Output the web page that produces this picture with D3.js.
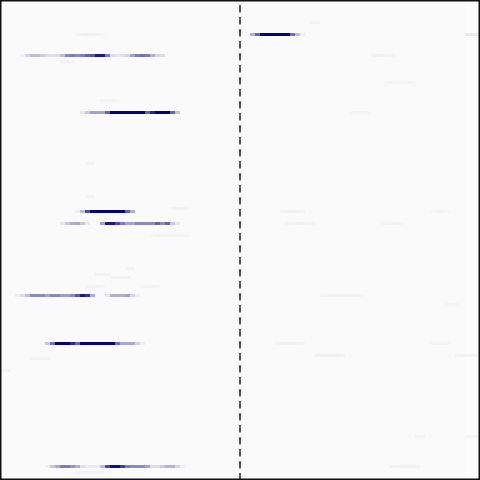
<!DOCTYPE html>
<html>
<head>
<meta charset="utf-8">
<script src="https://cdn.jsdelivr.net/npm/d3@7"></script>
<style>
  html, body { margin: 0; padding: 0; background: #ffffff; }
  svg { display: block; }
</style>
</head>
<body>
<div id="chart"></div>
<script>
// ---------- data ----------
const nCols = 96;            // column bins
const nRows = 160;           // row bins
const centerCol = 48;        // dashed reference line position (bin)
const brightCols = [93, 94, 95];   // columns with a lighter baseline

// each track: row index, first column, then values (0..1) for consecutive columns
const rowIndex = [
  7, 11, 11, 11, 18, 18, 20, 27, 33, 37, 37, 54, 65, 69, 70, 70, 70, 74, 74, 74, 78,
  89, 91, 92, 95, 95, 98, 98, 101, 114, 114, 114, 118, 118, 119, 123, 145, 145, 155, 155, 157
];
const startCol = [
  62, 15, 50, 93, 4, 74, 12, 77, 20, 16, 70, 17, 17, 34, 15, 56, 86, 12, 57, 76, 30,
  25, 19, 22, 17, 28, 3, 64, 89, 9, 55, 86, 63, 91, 6, 0, 83, 93, 9, 78, 15
];
const values = [
  [0.03, 0.03],
  [0.02, 0.04, 0.05, 0.05, 0.04, 0.02],
  [0.3, 0.6, 1, 1, 1, 1, 1, 1, 0.55, 0.25, 0.05],
  [0.07, 0.08, 0.07],
  [0.04, 0.15, 0.25, 0.25, 0.18, 0.12, 0.1, 0.12, 0.25, 0.45, 0.5, 0.45, 0.5, 0.6, 0.65, 0.9, 0.9, 0.5, 0.12, 0.08, 0.1, 0.15, 0.35, 0.5, 0.55, 0.5, 0.3, 0.15, 0.12],
  [0.03, 0.04, 0.04, 0.04, 0.03],
  [0.03, 0.04, 0.03],
  [0.02, 0.03, 0.03, 0.03, 0.03, 0.02],
  [0.03, 0.03, 0.03, 0.02],
  [0.08, 0.2, 0.35, 0.35, 0.35, 0.6, 1, 1, 1, 1, 1, 1, 1, 0.6, 0.85, 1, 1, 1, 0.6, 0.22],
  [0.02, 0.03, 0.03, 0.02],
  [0.03, 0.03],
  [0.03, 0.03],
  [0.02, 0.03, 0.03, 0.02],
  [0.05, 0.25, 0.7, 1, 1, 1, 1, 1, 1, 1, 0.6, 0.3],
  [0.03, 0.04, 0.04, 0.04, 0.03],
  [0.02, 0.03, 0.03, 0.02],
  [0.08, 0.2, 0.3, 0.33, 0.2, 0.07, 0, 0, 0.35, 0.9, 0.9, 0.7, 0.5, 0.35, 0.35, 0.45, 0.45, 0.45, 0.45, 0.6, 0.45, 0.6, 0.2, 0.08],
  [0.03, 0.04, 0.04, 0.04, 0.04, 0.03],
  [0.02, 0.03, 0.03, 0.03, 0.02],
  [0.02, 0.03, 0.03, 0.03, 0.03, 0.03, 0.03, 0.02],
  [0.03, 0.03],
  [0.03, 0.04, 0.03],
  [0.03, 0.04, 0.04, 0.03],
  [0.03, 0.03, 0.03, 0.02],
  [0.02, 0.03, 0.03, 0.02],
  [0.05, 0.12, 0.25, 0.45, 0.45, 0.45, 0.35, 0.45, 0.45, 0.38, 0.38, 0.45, 0.65, 0.9, 0.8, 0.3, 0, 0, 0.08, 0.3, 0.3, 0.3, 0.35, 0.15, 0.05],
  [0.02, 0.03, 0.03, 0.03, 0.03, 0.03, 0.03, 0.03, 0.02],
  [0.02, 0.02, 0.02],
  [0.2, 0.55, 1, 1, 1, 0.85, 0.6, 1, 1, 1, 1, 1, 1, 1, 0.55, 0.33, 0.33, 0.33, 0.15, 0.05],
  [0.03, 0.04, 0.04, 0.04, 0.04, 0.03],
  [0.02, 0.03, 0.03, 0.02],
  [0.04, 0.05, 0.05, 0.05, 0.05, 0.04],
  [0.03, 0.04, 0.04, 0.04, 0.03],
  [0.03, 0.03, 0.03, 0.03],
  [0.03, 0.03],
  [0.03, 0.03],
  [0.03, 0.03, 0.03],
  [0.05, 0.2, 0.33, 0.5, 0.5, 0.4, 0.3, 0.1, 0.06, 0.06, 0.06, 0.25, 0.7, 0.95, 0.95, 0.75, 0.5, 0.45, 0.45, 0.45, 0.35, 0.12, 0.12, 0.2, 0.28, 0.28, 0.15, 0.04],
  [0.03, 0.04, 0.04, 0.04, 0.04, 0.03],
  [0.02, 0.03, 0.03, 0.03, 0.03, 0.02]
];

// ---------- layout ----------
const W = 480, H = 480;
const svg = d3.select("#chart").append("svg")
  .attr("width", W).attr("height", H)
  .attr("shape-rendering", "crispEdges");

const x = d3.scaleLinear().domain([0, nCols]).range([0, W]);
const y = d3.scaleLinear().domain([0, nRows]).range([0, H]);

const baseColor = c => brightCols.includes(c) ? "#fcfcfc" : "#fafafa";
const color = (c, v) => d3.interpolateRgb(baseColor(c), "#000080")(Math.max(0, Math.min(1, v)));

// baseline columns
svg.append("g").selectAll("rect")
  .data(d3.range(nCols))
  .join("rect")
  .attr("x", c => x(c)).attr("y", y(0))
  .attr("width", c => x(c + 1) - x(c))
  .attr("height", y(nRows) - y(0))
  .attr("fill", c => baseColor(c));

// cells
const cells = [];
rowIndex.forEach((r, i) => {
  values[i].forEach((v, j) => {
    if (v > 0) cells.push({ r, c: startCol[i] + j, v });
  });
});

svg.append("g").selectAll("rect")
  .data(cells)
  .join("rect")
  .attr("x", d => x(d.c)).attr("y", d => y(d.r))
  .attr("width", d => x(d.c + 1) - x(d.c))
  .attr("height", d => y(d.r + 1) - y(d.r))
  .attr("fill", d => color(d.c, d.v));

// dashed center line
svg.append("line")
  .attr("x1", x(centerCol)).attr("x2", x(centerCol))
  .attr("y1", y(0)).attr("y2", y(nRows))
  .attr("stroke", "#222")
  .attr("stroke-width", 1.5)
  .attr("stroke-dasharray", "7.5,4.5")
  .attr("stroke-dashoffset", 7)
  .attr("shape-rendering", "auto");

// frame
svg.append("rect")
  .attr("x", 0.75).attr("y", 0.75)
  .attr("width", W - 1.5).attr("height", H - 1.5)
  .attr("fill", "none")
  .attr("stroke", "#111")
  .attr("stroke-width", 1.5)
  .attr("shape-rendering", "auto");
</script>
</body>
</html>
